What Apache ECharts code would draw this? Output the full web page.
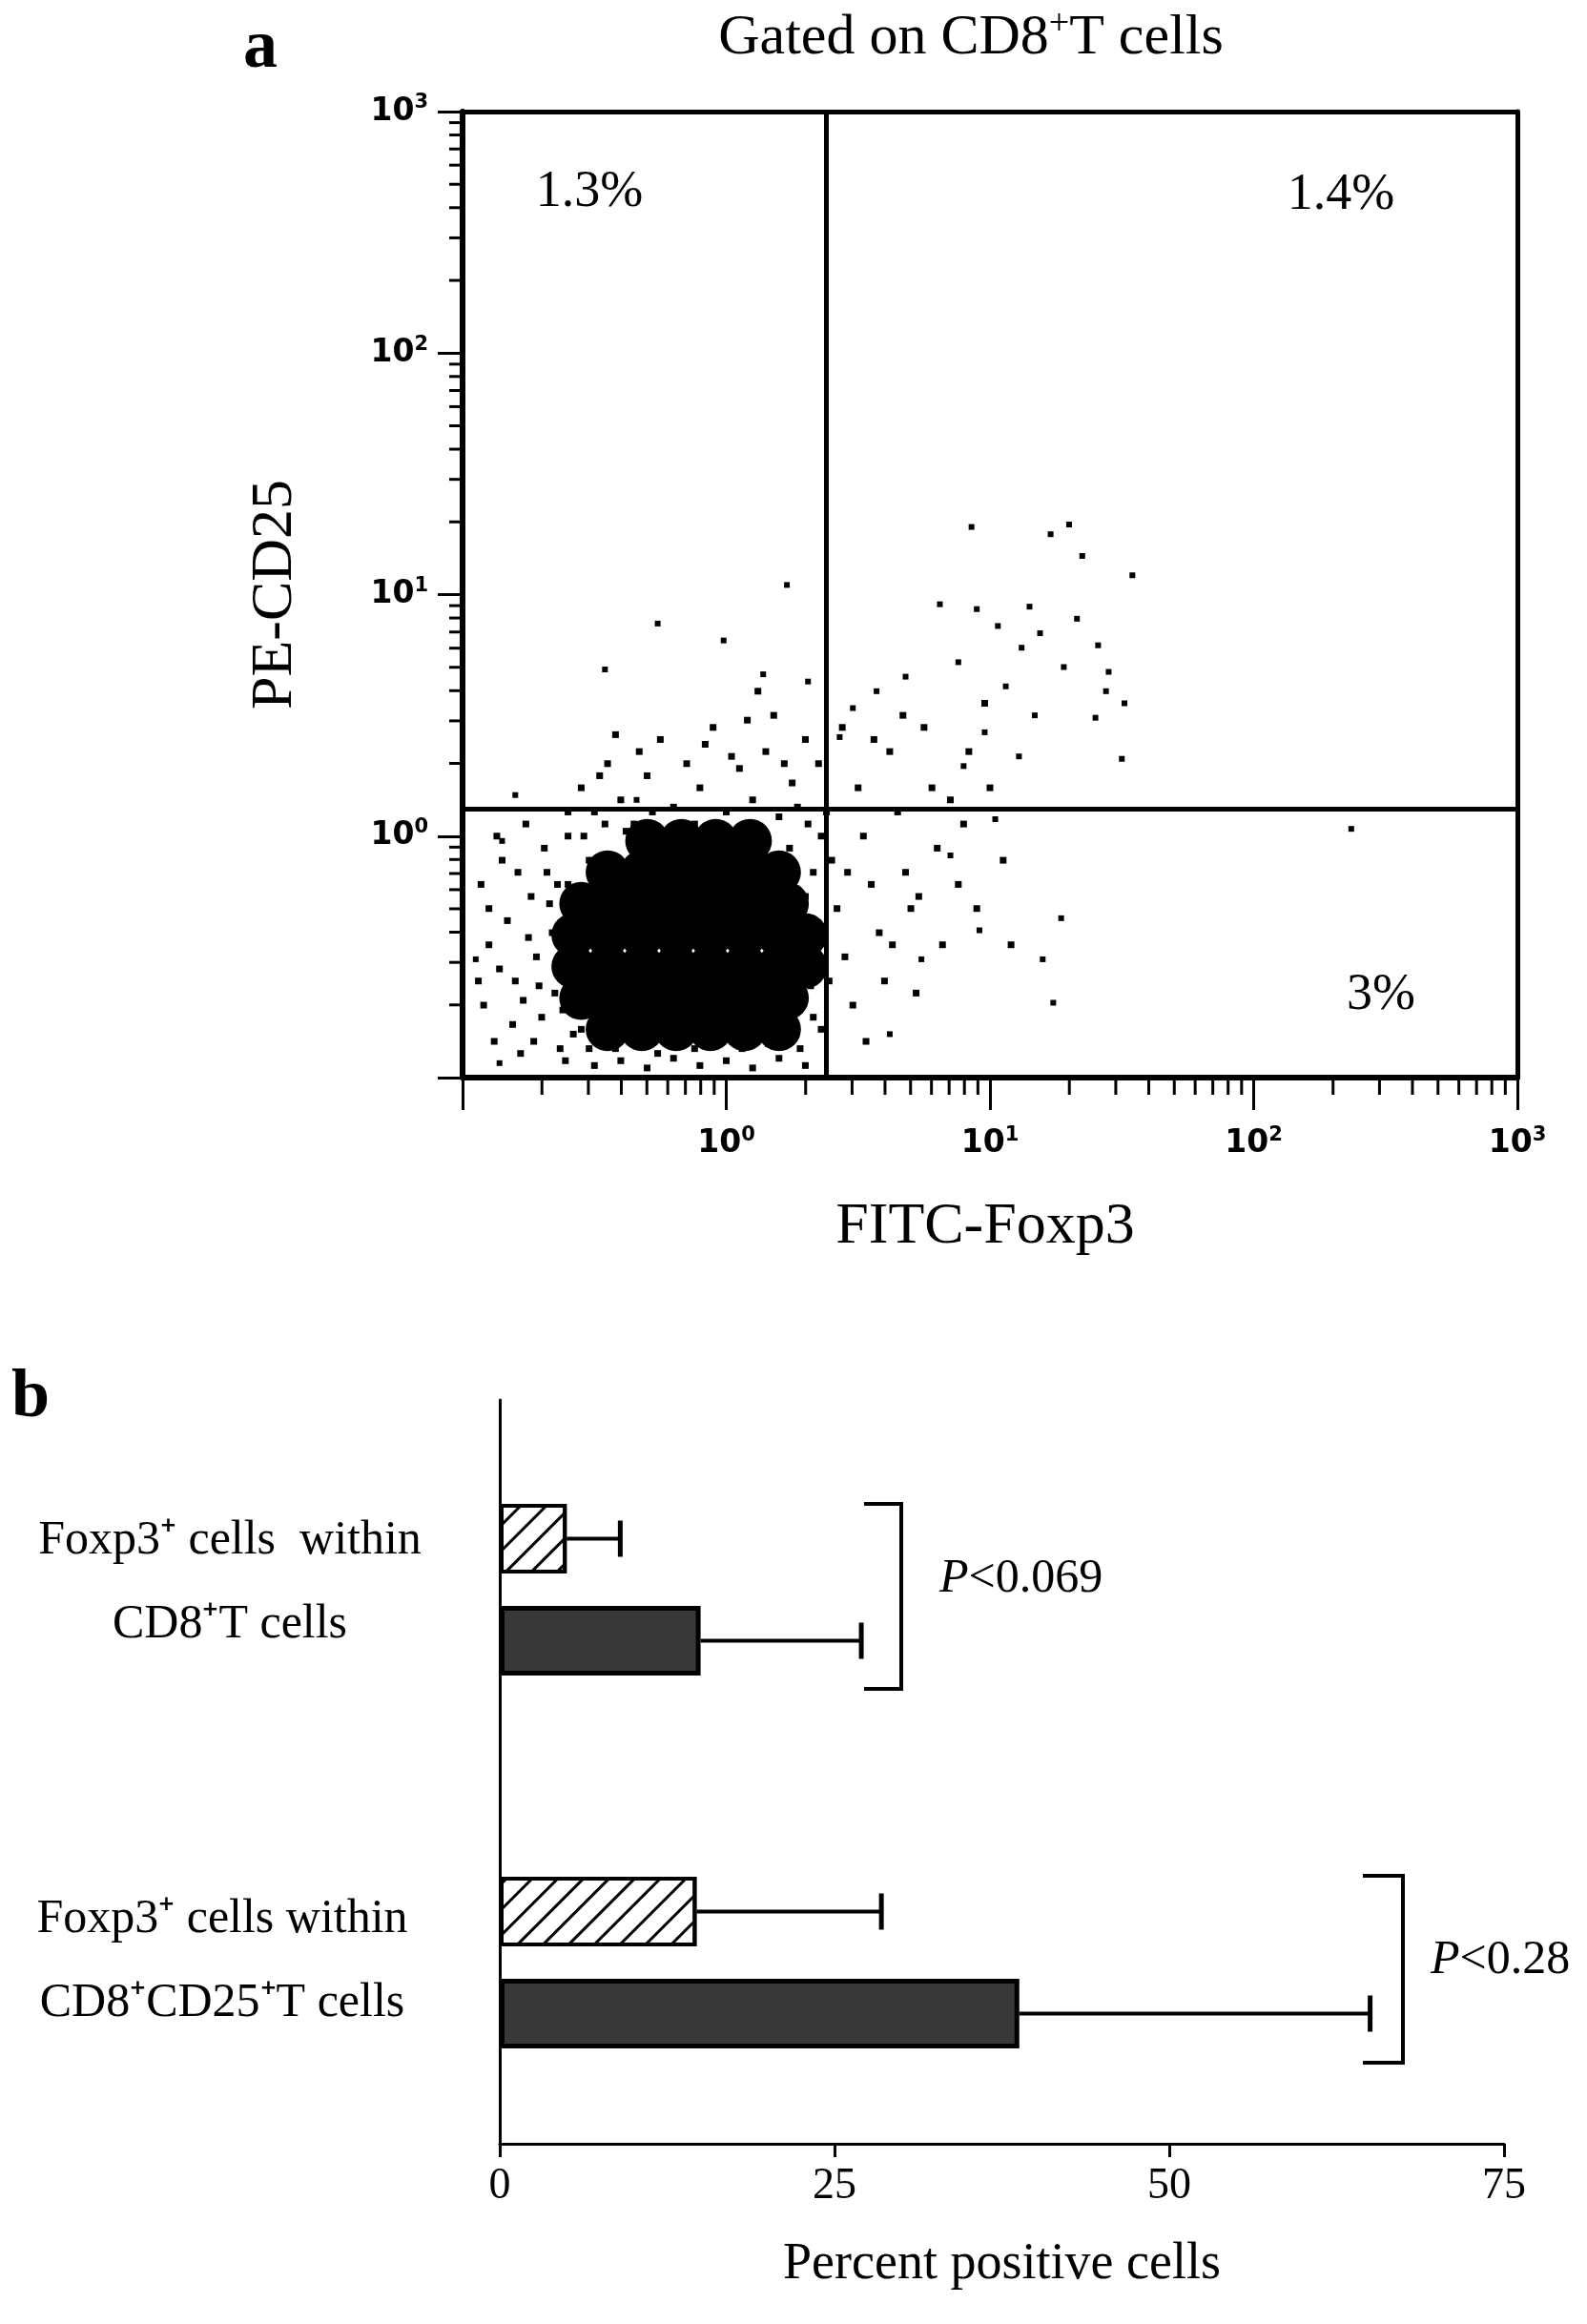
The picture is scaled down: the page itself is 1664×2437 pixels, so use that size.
<!DOCTYPE html>
<html><head><meta charset="utf-8">
<script src="https://cdn.jsdelivr.net/npm/echarts@6/dist/echarts.min.js"></script>
<style>html,body{margin:0;padding:0;background:#fff}#c{width:1664px;height:2437px}</style>
</head><body><div id="c"></div>
<script>
// ---- Panel a data (log10 coordinates: [log10 FITC, log10 PE]) ----
var sparsePts = [[0.23,1.04],[-0.26,0.88],[-0.46,0.69],[-0.01,0.81],[0.93,1.28],[1.30,1.29],[1.23,1.25],[1.54,1.08],[1.35,1.16],[0.81,0.96],[0.95,0.94],[1.03,0.87],[1.12,0.78],[1.19,0.84],[1.41,0.79],[1.44,0.6],[1.51,0.55],[1.40,0.49],[1.50,0.32],[2.37,0.03],[1.27,-0.34],[1.24,-0.69],[1.2,-0.51],[1.11,0.33],[0.98,0.43],[0.9,0.29],[1.02,0.07],[0.85,-0.08],[0.96,-0.39],[0.74,-0.51],[0.62,-0.82],[0.57,0.6],[0.68,0.66],[0.48,0.53],[0.43,0.41],[0.31,0.64],[0.14,0.67],[-0.34,0.15],[-0.8,0.17],[-0.85,-0.02],[-0.95,-0.51],[-0.86,-0.94],[1.15,0.95],[1.28,0.7],[1.33,0.9],[1.45,0.68],[1.06,0.62],[0.88,0.72],[1.17,0.5]];
var midPts = [[-0.93,-0.2],[-0.9,-0.45],[-0.92,-0.7],[-0.88,-0.85],[-0.85,-0.1],[-0.83,-0.35],[-0.8,-0.6],[-0.78,-0.9],[-0.76,0.05],[-0.74,-0.25],[-0.72,-0.5],[-0.7,-0.75],[-0.68,-0.15],[-0.66,-0.4],[-0.65,-0.65],[-0.63,-0.88],[-0.6,0.1],[-0.58,-0.3],[-0.57,-0.55],[-0.55,-0.8],[-0.9,-0.3],[-0.86,-0.55],[-0.81,-0.78],[-0.79,-0.15],[-0.75,-0.42],[-0.71,-0.62],[-0.69,-0.05],[-0.64,-0.2],[-0.62,-0.72],[-0.59,-0.45],[-0.94,-0.6],[-0.87,0.0],[-0.77,-0.68],[-0.73,-0.85],[-0.67,-0.28],[-0.61,-0.93],
[-0.55,0.2],[-0.5,0.1],[-0.45,0.3],[-0.4,0.15],[-0.35,0.05],[-0.3,0.25],[-0.25,0.4],[-0.2,0.12],[-0.15,0.3],[-0.1,0.2],[-0.05,0.45],[0,0.1],[0.05,0.28],[0.1,0.15],[0.15,0.35],[0.2,0.08],[0.25,0.22],[0.3,0.4],[-0.42,0.42],[-0.28,0.1],[-0.12,0.05],[0.02,0.33],[0.18,0.5],[0.27,0.12],[-0.48,0.25],[-0.33,0.35],[-0.08,0.38],[0.08,0.48],[0.22,0.3],[0.12,0.6],
[0.35,0.3],[0.38,0.1],[0.4,-0.1],[0.42,-0.3],[0.45,-0.5],[0.48,-0.7],[0.5,0.2],[0.52,0.0],[0.55,-0.2],[0.58,-0.4],[0.6,-0.6],[0.62,0.35],[0.65,0.1],[0.68,-0.15],[0.7,-0.3],[0.72,-0.65],[0.75,0.45],[0.78,0.2],[0.8,-0.05],[0.82,-0.45],[0.85,0.15],[0.88,-0.2],[0.36,-0.8],[0.39,-0.6],[0.44,0.45],[0.46,-0.15],[0.53,-0.85],[0.56,0.4],[0.63,-0.45],[0.67,0.5],[0.73,-0.25],[0.9,0.05],[0.95,-0.3],[1.0,0.2],[1.05,-0.1],[1.08,-0.45],[0.98,0.55],[0.92,0.35],
[-0.5,-0.95],[-0.4,-0.93],[-0.3,-0.96],[-0.2,-0.92],[-0.1,-0.95],[0,-0.93],[0.1,-0.96],[0.2,-0.92],[0.3,-0.95],[0.33,-0.75],[0.34,-0.45],[0.33,-0.15],[0.36,0.0],[-0.52,-0.1],[-0.5,-0.6],[-0.52,-0.88],[0.28,-0.88],[0.31,0.05],
[-0.6,-0.2],[-0.56,-0.7],[-0.54,0.0],[-0.46,0.05],[-0.38,0.02],[-0.22,0.02],[0.14,0.0],[0.24,-0.05],[0.3,-0.25],[0.32,-0.62],[0.26,-0.8],[-0.42,-0.88],[-0.26,-0.9],[-0.12,-0.88],[0.06,-0.88],[0.16,-0.86],[-0.58,-0.82],[-0.6,0.0]];
var coreRows = [
 [-0.8,[-0.45,-0.32,-0.19,-0.06,0.07,0.2]],
 [-0.67,[-0.55,-0.42,-0.29,-0.16,-0.03,0.1,0.23]],
 [-0.54,[-0.58,-0.45,-0.32,-0.19,-0.06,0.07,0.2,0.3]],
 [-0.41,[-0.58,-0.45,-0.32,-0.19,-0.06,0.07,0.2,0.3]],
 [-0.28,[-0.55,-0.42,-0.29,-0.16,-0.03,0.1,0.23]],
 [-0.15,[-0.45,-0.32,-0.19,-0.06,0.07,0.2]],
 [-0.02,[-0.3,-0.17,-0.04,0.09]]];
var gateX = 2.4, gateY = 1.29;
var quadLabels = ['1.3%','1.4%','3%'];

// ---- Panel b data ----
var groups = ['Foxp3⁺ cells  within\nCD8⁺T cells','Foxp3⁺ cells within\nCD8⁺CD25⁺T cells'];
var hatchVals = [5, 14.7];
var hatchErr = [9, 28.5];
var solidVals = [15, 38.8];
var solidErr = [27, 65];
var pLabels = ['<0.069','<0.28'];

function L(p){return [Math.pow(10,p[0]),Math.pow(10,p[1])];}
var coreData=[]; coreRows.forEach(function(r){r[1].forEach(function(x){coreData.push(L([x,r[0]]));});});
function logLab(v){var p=Math.round(Math.log10(v)); if(p<0) return ''; return '{b|10}{s|'+p+'}';}
var labRich={b:{fontFamily:'DejaVu Sans',fontWeight:'bold',fontSize:33,color:'#000'},s:{fontFamily:'DejaVu Sans',fontWeight:'bold',fontSize:21,color:'#000',verticalAlign:'top',padding:[0,0,18,0]}};
var minorVals=[]; for(var d=-1;d<3;d++){for(var k=2;k<=9;k++)minorVals.push(k*Math.pow(10,d));}

var serif='Liberation Serif';
var chart=echarts.init(document.getElementById('c'));
var hatchDecal={symbol:'rect',symbolSize:1,dashArrayX:[[1,0]],dashArrayY:[3,16],rotation:-Math.PI/4,color:'#000'};

function errItem(params,api){
  var v=api.value(1), e=api.value(2), c=api.value(0);
  var p0=api.coord([v,c]), p1=api.coord([e,c]);
  return {type:'group',children:[
    {type:'line',shape:{x1:p0[0],y1:p0[1],x2:p1[0],y2:p1[1]},style:{stroke:'#000',lineWidth:4}},
    {type:'line',shape:{x1:p1[0],y1:p1[1]-19,x2:p1[0],y2:p1[1]+19},style:{stroke:'#000',lineWidth:5}}]};
}

var option={
  animation:false,
  backgroundColor:'#fff',
  grid:[
    {left:485,top:117,width:1106,height:1013},
    {left:524,top:1560,width:1053,height:214},
    {left:524,top:1951,width:1053,height:214},
    {left:524,top:1468,width:1053,height:780}
  ],
  xAxis:[
    {type:'log',gridIndex:0,min:0.1,max:1000,logBase:10,
     axisLine:{show:true,lineStyle:{color:'#000',width:6}},
     axisTick:{show:true,length:34,lineStyle:{color:'#000',width:3}},
     axisLabel:{formatter:logLab,rich:labRich,margin:50},splitLine:{show:false}},
    {type:'log',gridIndex:0,min:0.1,max:1000,position:'top',
     axisLine:{show:true,lineStyle:{color:'#000',width:5}},axisTick:{show:false},axisLabel:{show:false},splitLine:{show:false}},
    {type:'value',gridIndex:1,min:0,max:75,show:false},
    {type:'value',gridIndex:2,min:0,max:75,show:false},
    {type:'value',gridIndex:3,min:0,max:75,interval:25,
     axisLine:{show:true,lineStyle:{color:'#000',width:3}},
     axisTick:{show:true,length:14,lineStyle:{color:'#000',width:3}},
     axisLabel:{fontFamily:serif,fontSize:46,color:'#000',margin:22},splitLine:{show:false},
     name:'Percent positive cells',nameLocation:'middle',nameGap:100,nameTextStyle:{fontFamily:serif,fontSize:54,color:'#000'}}
  ],
  yAxis:[
    {type:'log',gridIndex:0,min:0.1,max:1000,
     axisLine:{show:true,lineStyle:{color:'#000',width:6}},
     axisTick:{show:true,length:26,lineStyle:{color:'#000',width:3}},
     axisLabel:{formatter:logLab,rich:labRich,margin:36},splitLine:{show:false},
     name:'PE-CD25',nameLocation:'middle',nameGap:165,nameTextStyle:{fontFamily:serif,fontSize:62,color:'#000'}},
    {type:'log',gridIndex:0,min:0.1,max:1000,position:'right',
     axisLine:{show:true,lineStyle:{color:'#000',width:5}},axisTick:{show:false},axisLabel:{show:false},splitLine:{show:false}},
    {type:'category',gridIndex:1,data:['h','s'],inverse:true,show:false},
    {type:'category',gridIndex:2,data:['h','s'],inverse:true,show:false},
    {type:'value',gridIndex:3,min:0,max:1,
     axisLine:{show:true,onZero:false,lineStyle:{color:'#000',width:3}},axisTick:{show:false},axisLabel:{show:false},splitLine:{show:false}}
  ],
  series:[
    {type:'scatter',xAxisIndex:0,yAxisIndex:0,data:coreData,symbolSize:46,itemStyle:{color:'#000',opacity:1},silent:true},
    {type:'scatter',xAxisIndex:0,yAxisIndex:0,data:midPts.map(L),symbolSize:7,symbol:'rect',itemStyle:{color:'#000',opacity:1},silent:true},
    {type:'scatter',xAxisIndex:0,yAxisIndex:0,data:sparsePts.map(L),symbolSize:6,symbol:'rect',itemStyle:{color:'#000',opacity:1},silent:true,
     markLine:{silent:true,symbol:'none',label:{show:false},lineStyle:{color:'#000',width:5,type:'solid'},
       data:[{xAxis:gateX},{yAxis:gateY}]}},
    {type:'custom',xAxisIndex:0,yAxisIndex:0,clip:false,silent:true,
     data:minorVals.map(function(v){return [v,0.1];}),
     renderItem:function(params,api){
       var v=api.value(0); var px=api.coord([v,0.1]); var py=api.coord([0.1,v]);
       return {type:'group',children:[
         {type:'line',shape:{x1:px[0],y1:px[1],x2:px[0],y2:px[1]+18},style:{stroke:'#000',lineWidth:3}},
         {type:'line',shape:{x1:py[0],y1:py[1],x2:py[0]-14,y2:py[1]},style:{stroke:'#000',lineWidth:3}}]};
     }},
    {type:'bar',xAxisIndex:2,yAxisIndex:2,barWidth:73,data:[
      {value:hatchVals[0],itemStyle:{color:'#fff',borderColor:'#000',borderWidth:4,decal:hatchDecal}},
      {value:solidVals[0],itemStyle:{color:'#383838',borderColor:'#000',borderWidth:5}}]},
    {type:'bar',xAxisIndex:3,yAxisIndex:3,barWidth:73,data:[
      {value:hatchVals[1],itemStyle:{color:'#fff',borderColor:'#000',borderWidth:4,decal:hatchDecal}},
      {value:solidVals[1],itemStyle:{color:'#383838',borderColor:'#000',borderWidth:5}}]},
    {type:'custom',xAxisIndex:2,yAxisIndex:2,renderItem:errItem,data:[[0,hatchVals[0],hatchErr[0]],[1,solidVals[0],solidErr[0]]],encode:{x:1,y:0}},
    {type:'custom',xAxisIndex:3,yAxisIndex:3,renderItem:errItem,data:[[0,hatchVals[1],hatchErr[1]],[1,solidVals[1],solidErr[1]]],encode:{x:1,y:0}}
  ],
  graphic:[
    {type:'text',left:255,top:15,style:{text:'a',font:'bold 72px "Liberation Serif"',fill:'#000'}},
    {type:'text',left:12,top:1430,style:{text:'b',font:'bold 72px "Liberation Serif"',fill:'#000'}},
    {type:'text',x:1018,y:40,style:{text:'Gated on CD8{s|+}T cells',font:'60px "Liberation Serif"',fill:'#000',align:'center',verticalAlign:'middle',
      rich:{s:{fontSize:38,verticalAlign:'top',padding:[0,0,28,0],fontFamily:serif}}}},
    {type:'text',x:1033,y:1287,style:{text:'FITC-Foxp3',font:'62px "Liberation Serif"',fill:'#000',align:'center',verticalAlign:'middle'}},
    {type:'text',x:618,y:202,style:{text:quadLabels[0],font:'54px "Liberation Serif"',fill:'#000',align:'center',verticalAlign:'middle'}},
    {type:'text',x:1406,y:205,style:{text:quadLabels[1],font:'54px "Liberation Serif"',fill:'#000',align:'center',verticalAlign:'middle'}},
    {type:'text',x:1448,y:1044,style:{text:quadLabels[2],font:'54px "Liberation Serif"',fill:'#000',align:'center',verticalAlign:'middle'}},
    {type:'text',x:241,y:1660,style:{text:groups[0],font:'50px "Liberation Serif"',fill:'#000',align:'center',verticalAlign:'middle',lineHeight:88}},
    {type:'text',x:233,y:2057,style:{text:groups[1],font:'50px "Liberation Serif"',fill:'#000',align:'center',verticalAlign:'middle',lineHeight:88}},
    {type:'polyline',shape:{points:[[906,1577],[945,1577],[945,1771],[906,1771]]},style:{stroke:'#000',lineWidth:4,fill:null}},
    {type:'polyline',shape:{points:[[1429,1967],[1471,1967],[1471,2163],[1429,2163]]},style:{stroke:'#000',lineWidth:4,fill:null}},
    {type:'text',x:985,y:1656,style:{text:'{i|P}'+pLabels[0],font:'50px "Liberation Serif"',fill:'#000',verticalAlign:'middle',rich:{i:{fontStyle:'italic',fontSize:50,fontFamily:serif}}}},
    {type:'text',x:1500,y:2056,style:{text:'{i|P}'+pLabels[1],font:'50px "Liberation Serif"',fill:'#000',verticalAlign:'middle',rich:{i:{fontStyle:'italic',fontSize:50,fontFamily:serif}}}}
  ]
};
chart.setOption(option);
</script></body></html>
